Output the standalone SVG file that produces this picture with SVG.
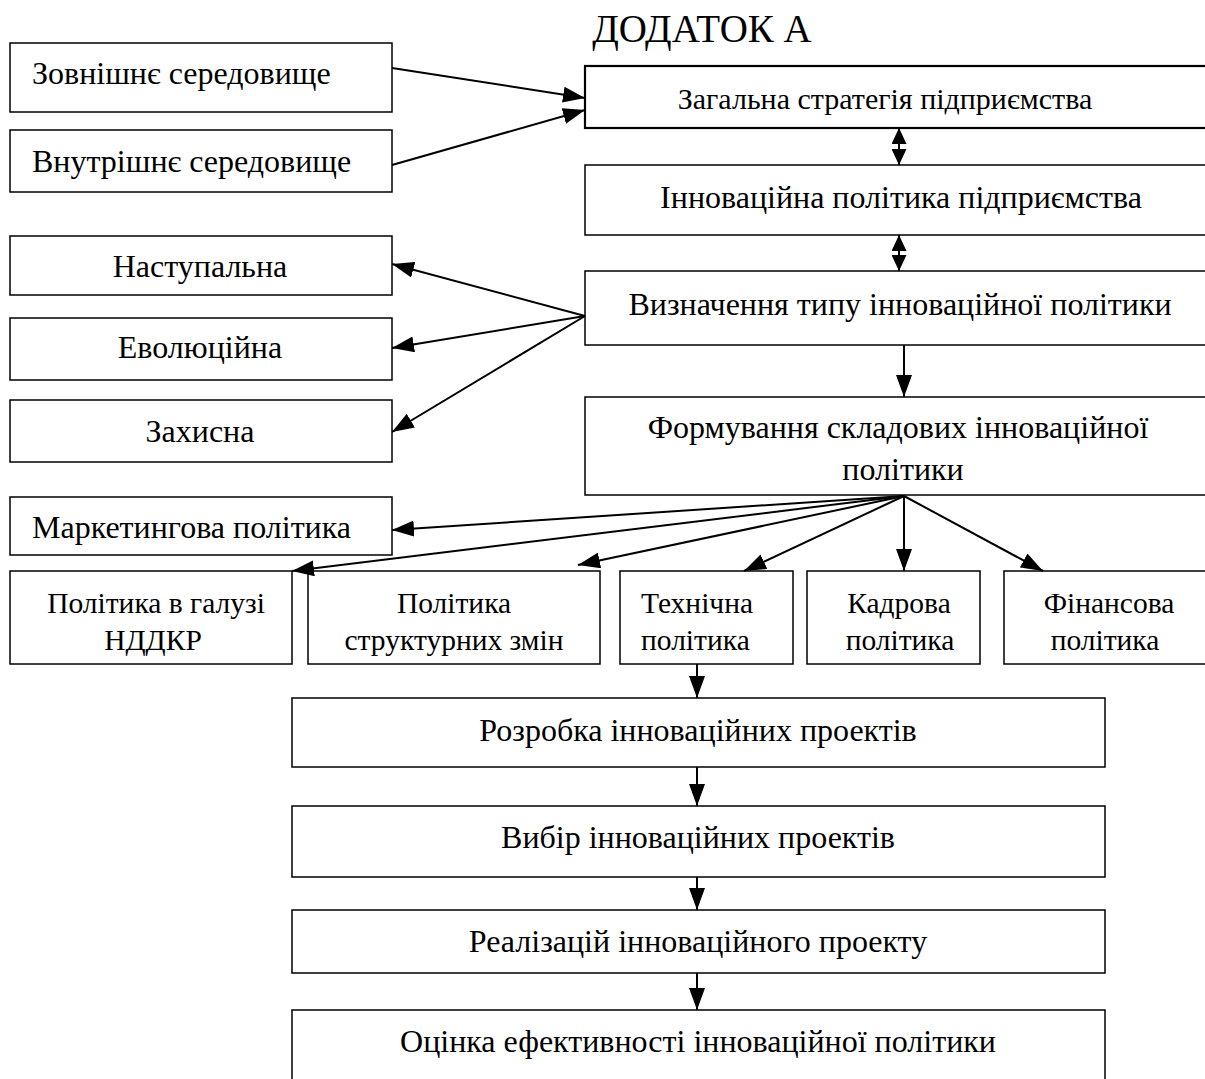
<svg xmlns="http://www.w3.org/2000/svg" width="1205" height="1079" viewBox="0 0 1205 1079">
<defs>
<style>
.box{fill:#fff;stroke:#000;stroke-width:1.5}
.thick{stroke-width:2.2}
.t{font-family:"Liberation Serif","Times New Roman",serif;font-size:32px;fill:#000}
.s{font-size:29.5px}
.m{text-anchor:middle}
.c{stroke:#000;stroke-width:2;fill:none}
</style>
<marker id="ah" viewBox="0 0 22 16" refX="22" refY="8" markerWidth="22" markerHeight="16" markerUnits="userSpaceOnUse" orient="auto-start-reverse">
<path d="M0,0 L22,8 L0,16 Z" fill="#000"/>
</marker>
<marker id="ahs" viewBox="0 0 16 15" refX="16" refY="7.5" markerWidth="16" markerHeight="15" markerUnits="userSpaceOnUse" orient="auto-start-reverse">
<path d="M0,0 L16,7.5 L0,15 Z" fill="#000"/>
</marker>
</defs>
<rect width="1205" height="1079" fill="#fff"/>
<text class="t m" x="702" y="42" style="font-size:39px">ДОДАТОК А</text>

<g id="n-zovn"><rect class="box" x="10" y="43" width="382" height="69"/><text class="t" x="32" y="84">Зовнішнє середовище</text></g>
<g id="n-vnutr"><rect class="box" x="10" y="130" width="382" height="62"/><text class="t" x="32" y="172">Внутрішнє середовище</text></g>
<g id="n-zag"><rect class="box thick" x="585" y="66" width="640" height="62"/><text class="t m" x="885" y="109" style="font-size:30px">Загальна стратегія підприємства</text></g>
<g id="n-innov"><rect class="box" x="585" y="165" width="640" height="70"/><text class="t m" x="901" y="208">Інноваційна політика підприємства</text></g>
<g id="n-vyzn"><rect class="box" x="585" y="271" width="640" height="74"/><text class="t m" x="900" y="315">Визначення типу інноваційної політики</text></g>
<g id="n-form"><rect class="box" x="585" y="397" width="640" height="98"/><text class="t m" x="898" y="438">Формування складових інноваційної</text><text class="t m" x="903" y="480">політики</text></g>
<g id="n-nast"><rect class="box" x="10" y="236" width="382" height="59"/><text class="t m" x="200" y="277">Наступальна</text></g>
<g id="n-evol"><rect class="box" x="10" y="318" width="382" height="62"/><text class="t m" x="200" y="358">Еволюційна</text></g>
<g id="n-zakh"><rect class="box" x="10" y="400" width="382" height="62"/><text class="t m" x="200" y="442">Захисна</text></g>
<g id="n-mark"><rect class="box" x="10" y="497" width="382" height="58"/><text class="t" x="32" y="538">Маркетингова політика</text></g>
<g id="n-nddkr"><rect class="box" x="10" y="571" width="282" height="93"/><text class="t s m" x="156" y="613">Політика в галузі</text><text class="t s m" x="153" y="650">НДДКР</text></g>
<g id="n-strukt"><rect class="box" x="308" y="571" width="292" height="93"/><text class="t s m" x="454" y="613">Політика</text><text class="t s m" x="454" y="650">структурних змін</text></g>
<g id="n-tekh"><rect class="box" x="620" y="571" width="173" height="93"/><text class="t s" x="641" y="613">Технічна</text><text class="t s" x="641" y="650">політика</text></g>
<g id="n-kadr"><rect class="box" x="807" y="571" width="173" height="93"/><text class="t s m" x="899" y="613">Кадрова</text><text class="t s m" x="900" y="650">політика</text></g>
<g id="n-fin"><rect class="box" x="1004" y="571" width="220" height="93"/><text class="t s m" x="1109" y="613">Фінансова</text><text class="t s m" x="1105" y="650">політика</text></g>
<g id="n-rozr"><rect class="box" x="292" y="698" width="813" height="69"/><text class="t m" x="698" y="741">Розробка інноваційних проектів</text></g>
<g id="n-vybir"><rect class="box" x="292" y="806" width="813" height="71"/><text class="t m" x="698" y="848">Вибір інноваційних проектів</text></g>
<g id="n-real"><rect class="box" x="292" y="910" width="813" height="63"/><text class="t m" x="698" y="952">Реалізацій інноваційного проекту</text></g>
<g id="n-otsin"><rect class="box" x="292" y="1010" width="813" height="80"/><text class="t m" x="698" y="1052">Оцінка ефективності інноваційної політики</text></g>

<g id="connectors" class="c">
<line x1="392" y1="68" x2="585" y2="98" marker-end="url(#ah)"/>
<line x1="392" y1="165" x2="585" y2="110" marker-end="url(#ah)"/>
<line x1="899" y1="128" x2="899" y2="165" marker-start="url(#ahs)" marker-end="url(#ahs)"/>
<line x1="899" y1="235" x2="899" y2="271" marker-start="url(#ahs)" marker-end="url(#ahs)"/>
<line x1="585" y1="316" x2="392" y2="264" marker-end="url(#ah)"/>
<line x1="585" y1="316" x2="392" y2="348" marker-end="url(#ah)"/>
<line x1="585" y1="316" x2="392" y2="432" marker-end="url(#ah)"/>
<line x1="904" y1="345" x2="904" y2="397" marker-end="url(#ah)"/>
<line x1="904" y1="496" x2="392" y2="530" marker-end="url(#ah)"/>
<line x1="904" y1="496" x2="292" y2="571" marker-end="url(#ah)"/>
<line x1="904" y1="496" x2="578" y2="565" marker-end="url(#ah)"/>
<line x1="904" y1="496" x2="744" y2="571" marker-end="url(#ah)"/>
<line x1="904" y1="496" x2="904" y2="571" marker-end="url(#ah)"/>
<line x1="904" y1="496" x2="1043" y2="571" marker-end="url(#ah)"/>
<line x1="697" y1="664" x2="697" y2="698" marker-end="url(#ah)"/>
<line x1="697" y1="767" x2="697" y2="806" marker-end="url(#ah)"/>
<line x1="697" y1="877" x2="697" y2="910" marker-end="url(#ah)"/>
<line x1="697" y1="973" x2="697" y2="1010" marker-end="url(#ah)"/>
</g>
</svg>
